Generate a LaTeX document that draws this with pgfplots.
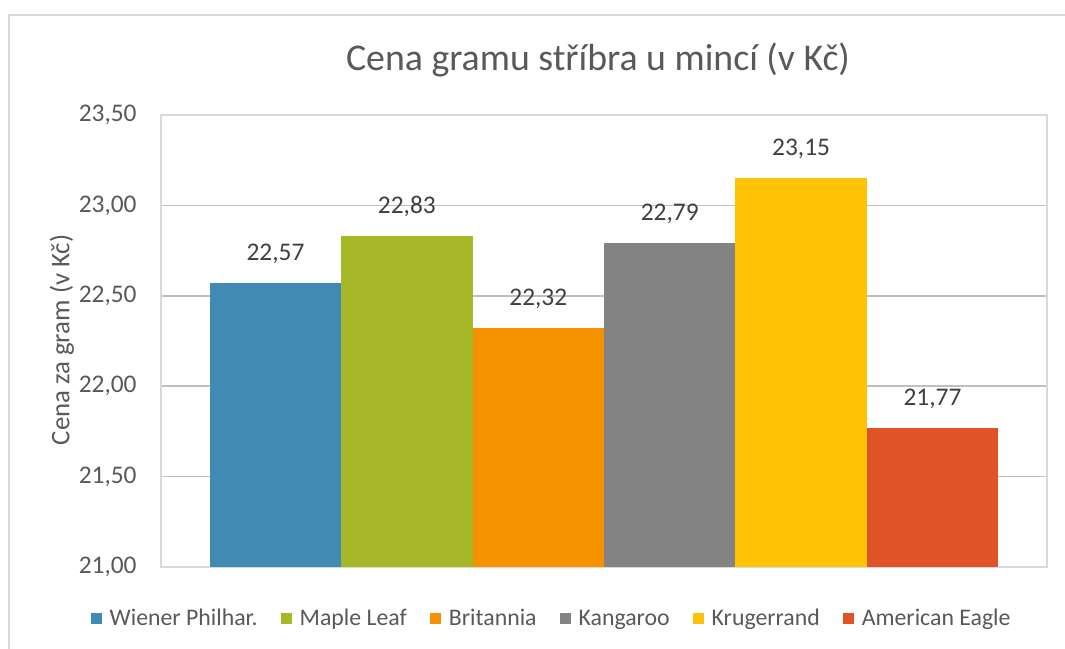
\documentclass[border=0pt]{standalone}
\usepackage{fontspec}
\setmainfont{Carlito}
\usepackage{pgfplots}
\pgfplotsset{compat=1.18}
\definecolor{cBlue}{HTML}{418AB3}
\definecolor{cGreen}{HTML}{A6B727}
\definecolor{cOrange}{HTML}{F69200}
\definecolor{cGray}{HTML}{838383}
\definecolor{cYellow}{HTML}{FEC306}
\definecolor{cRed}{HTML}{DF5327}
\definecolor{txt}{HTML}{595959}
\definecolor{lbl}{HTML}{404040}
\definecolor{grid}{HTML}{D9D9D9}
\begin{document}
\begin{tikzpicture}
\useasboundingbox (0,0) rectangle (532.5pt,-324pt);
\fill[white] (0,0) rectangle (532.5pt,-324pt);
\draw[grid, line width=1pt] (4.5pt,-330pt) -- (4.5pt,-7.5pt) -- (540pt,-7.5pt);
\node[txt, font=\fontsize{18.9}{22}\selectfont] at (299pt,-30pt) {Cena gramu stříbra u mincí (v Kč)};
\node[txt, rotate=90, font=\fontsize{13.4}{16}\selectfont] at (31pt,-170pt) {Cena za gram (v Kč)};
\begin{axis}[
  at={(80.5pt,-283.5pt)}, anchor=south west,
  scale only axis, width=443pt, height=226pt,
  xmin=-1, xmax=1, ymin=21, ymax=23.5,
  ytick={21,21.5,22,22.5,23,23.5},
  xtick=\empty,
  ymajorgrids, grid style={grid, line width=0.75pt},
  axis line style={grid, line width=0.75pt},
  ytick style={draw=none},
  /pgf/number format/.cd, fixed, fixed zerofill, precision=2, use comma, assume math mode=true,
  /pgfplots/.cd,
  yticklabel style={txt, inner sep=0pt, xshift=-12pt, font=\fontsize{12.7}{15}\selectfont},
  ybar=0pt, bar width=65.7pt,
  nodes near coords,
  every node near coord/.append style={lbl, anchor=south, inner sep=0pt, yshift=9.5pt, font=\fontsize{12.7}{15}\selectfont},
  legend columns=6,
  legend image code/.code={\fill[#1] (0pt,-2.75pt) rectangle (5.5pt,2.75pt);},
  legend style={at={(0.4397,-0.115)}, anchor=center, draw=none, fill=none,
    font=\fontsize{11.9}{14}\selectfont, text=txt,
    nodes={inner sep=0pt},
    /tikz/every odd column/.append style={column sep=4pt},
    /tikz/every even column/.append style={column sep=11.5pt}},
]
\addplot[fill=cBlue, draw=none] coordinates {(0,22.57)};
\addlegendentry{Wiener Philhar.}
\addplot[fill=cGreen, draw=none] coordinates {(0,22.83)};
\addlegendentry{Maple Leaf}
\addplot[fill=cOrange, draw=none] coordinates {(0,22.32)};
\addlegendentry{Britannia}
\addplot[fill=cGray, draw=none] coordinates {(0,22.79)};
\addlegendentry{Kangaroo}
\addplot[fill=cYellow, draw=none] coordinates {(0,23.15)};
\addlegendentry{Krugerrand}
\addplot[fill=cRed, draw=none] coordinates {(0,21.77)};
\addlegendentry{American Eagle}
\end{axis}
\end{tikzpicture}
\end{document}
